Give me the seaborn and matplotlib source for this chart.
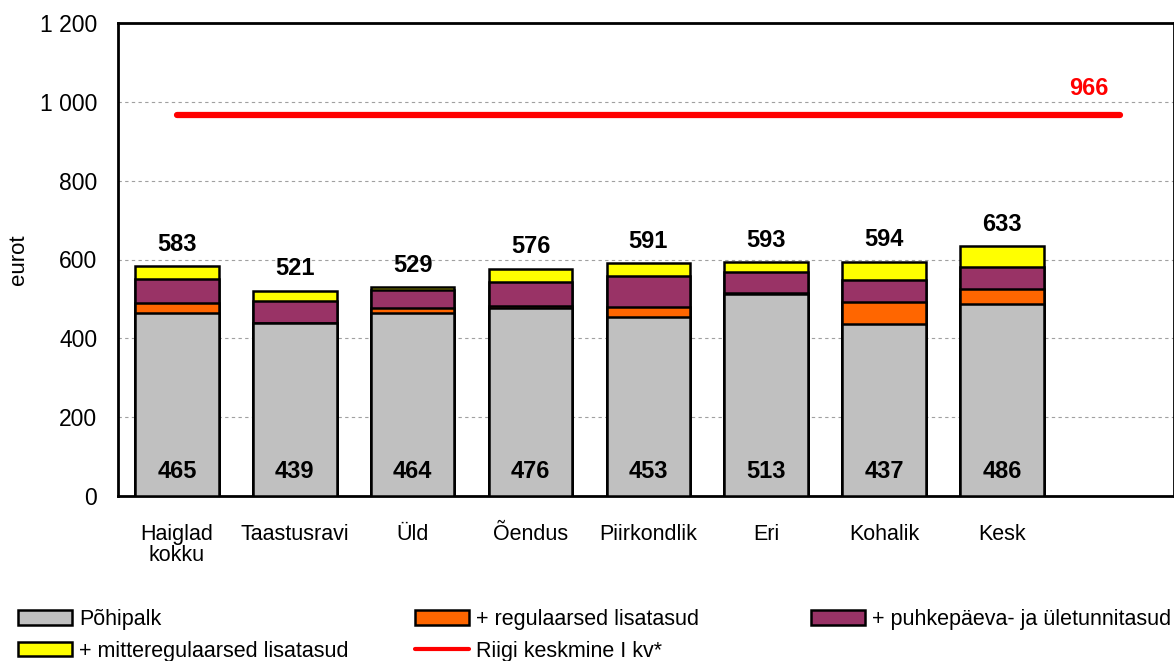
import numpy as np
import pandas as pd
import matplotlib
matplotlib.use("Agg")
import matplotlib.pyplot as plt
import seaborn as sns
from matplotlib.patches import Patch
from matplotlib.lines import Line2D
from matplotlib.ticker import FixedLocator, FuncFormatter

# Andmed (eurot)
categories = ["Haiglad\nkokku", "Taastusravi", "Üld", "Õendus", "Piirkondlik",
              "Eri", "Kohalik", "Kesk"]
pohipalk = [465, 439, 464, 476, 453, 513, 437, 486]
regulaarsed = [25, 1, 12, 6, 26, 3, 56, 38]
puhkepaeva = [61, 54, 47, 62, 79, 52, 55, 57]
mitteregulaarsed = [32, 27, 6, 32, 33, 25, 46, 52]
kokku = [583, 521, 529, 576, 591, 593, 594, 633]
riigi_keskmine = 966

series_names = ["Põhipalk", "+ regulaarsed lisatasud",
                "+ puhkepäeva- ja ületunnitasud", "+ mitteregulaarsed lisatasud"]
series_colors = ["#C0C0C0", "#FF6600", "#993366", "#FFFF00"]
line_name = "Riigi keskmine I kv*"

sns.set_style("white")
plt.rcParams["font.family"] = ["Liberation Sans", "DejaVu Sans"]
plt.rcParams["text.color"] = "black"
plt.rcParams["axes.labelcolor"] = "black"
plt.rcParams["xtick.labelcolor"] = "black"
plt.rcParams["ytick.labelcolor"] = "black"

df = pd.DataFrame({
    "kategooria": categories,
    series_names[0]: pohipalk,
    series_names[1]: regulaarsed,
    series_names[2]: puhkepaeva,
    series_names[3]: mitteregulaarsed,
})
# viimane tühi koht, kuhu ulatub keskmise joon
order = categories + [" "]

fig = plt.figure(figsize=(11.74, 6.61), dpi=100)
ax = fig.add_axes([118 / 1174, 1 - 496 / 661, 1 - 118 / 1174, (496 - 23) / 661])

# kumulatiivsed kõrgused, joonistatakse kõrgemast madalamani
cum = df[series_names].cumsum(axis=1)
for name, color in reversed(list(zip(series_names, series_colors))):
    sns.barplot(x=df["kategooria"], y=cum[name], order=order, color=color,
                saturation=1, edgecolor="black", linewidth=1.8, width=0.71,
                errorbar=None, ax=ax, zorder=3)

# riigi keskmine
ax.plot([0, len(order) - 1], [riigi_keskmine] * 2, color="#FF0000", lw=4.5,
        solid_capstyle="round", zorder=5)
ax.annotate(f"{riigi_keskmine}", (len(order) - 1, riigi_keskmine),
            xytext=(-31, 27), textcoords="offset pixels", ha="center",
            va="center", color="#FF0000", fontsize=17, fontweight="bold")

for i, (base, tot) in enumerate(zip(pohipalk, kokku)):
    ax.annotate(f"{base}", (i, 0), xytext=(0, 25), textcoords="offset pixels",
                ha="center", va="center", fontsize=17, fontweight="bold", zorder=6)
    ax.annotate(f"{tot}", (i, tot), xytext=(0, 22), textcoords="offset pixels",
                ha="center", va="center", fontsize=17, fontweight="bold", zorder=6)

# teljed
ax.set_xlim(-0.5, 8.46)
ax.set_ylim(0, 1200)
ax.set_yticks(np.arange(0, 1201, 200))
ax.yaxis.set_major_formatter(FuncFormatter(lambda v, p: f"{int(v):,}".replace(",", " ")))
ax.xaxis.set_major_locator(FixedLocator(np.arange(-0.5, 9, 1)))
ax.xaxis.set_minor_locator(FixedLocator(np.arange(len(categories))))
ax.set_xticklabels([], minor=False)
ax.set_xticklabels(categories, minor=True)
ax.tick_params(axis="x", which="major", length=5, color="#808080", direction="out")
ax.tick_params(axis="x", which="minor", length=0, pad=20, labelsize=15.5)
ax.tick_params(axis="y", length=5, color="#808080", direction="out", labelsize=16.5, pad=10)
for t in ax.get_xticklabels(minor=True):
    t.set_linespacing(1.0)
ax.set_xlabel("")
ax.set_ylabel("eurot", fontsize=16, labelpad=8)
ax.yaxis.grid(True, linestyle=(0, (3, 3)), color="#A0A0A0", lw=0.8, zorder=0)
ax.xaxis.grid(False)
for s in ax.spines.values():
    s.set_color("black")
    s.set_linewidth(2)

# legend kolmes veerus
patches = [Patch(facecolor=c, edgecolor="black", lw=1.8, label=n)
           for n, c in zip(series_names, series_colors)]
red_line = Line2D([], [], color="#FF0000", lw=3, label=line_name)
columns = [
    ([patches[0], patches[3]], 18 / 1174),
    ([patches[1], red_line], 415 / 1174),
    ([patches[2]], 811 / 1174),
]
for handles, x0 in columns:
    fig.legend(handles=handles, loc="upper left", bbox_to_anchor=(x0, 1 - 609 / 661),
               frameon=False, fontsize=15.5, handlelength=2.5, handleheight=0.65,
               handletextpad=0.35, labelspacing=0.5, borderpad=0, borderaxespad=0)

fig.savefig("out.png", dpi=100)
